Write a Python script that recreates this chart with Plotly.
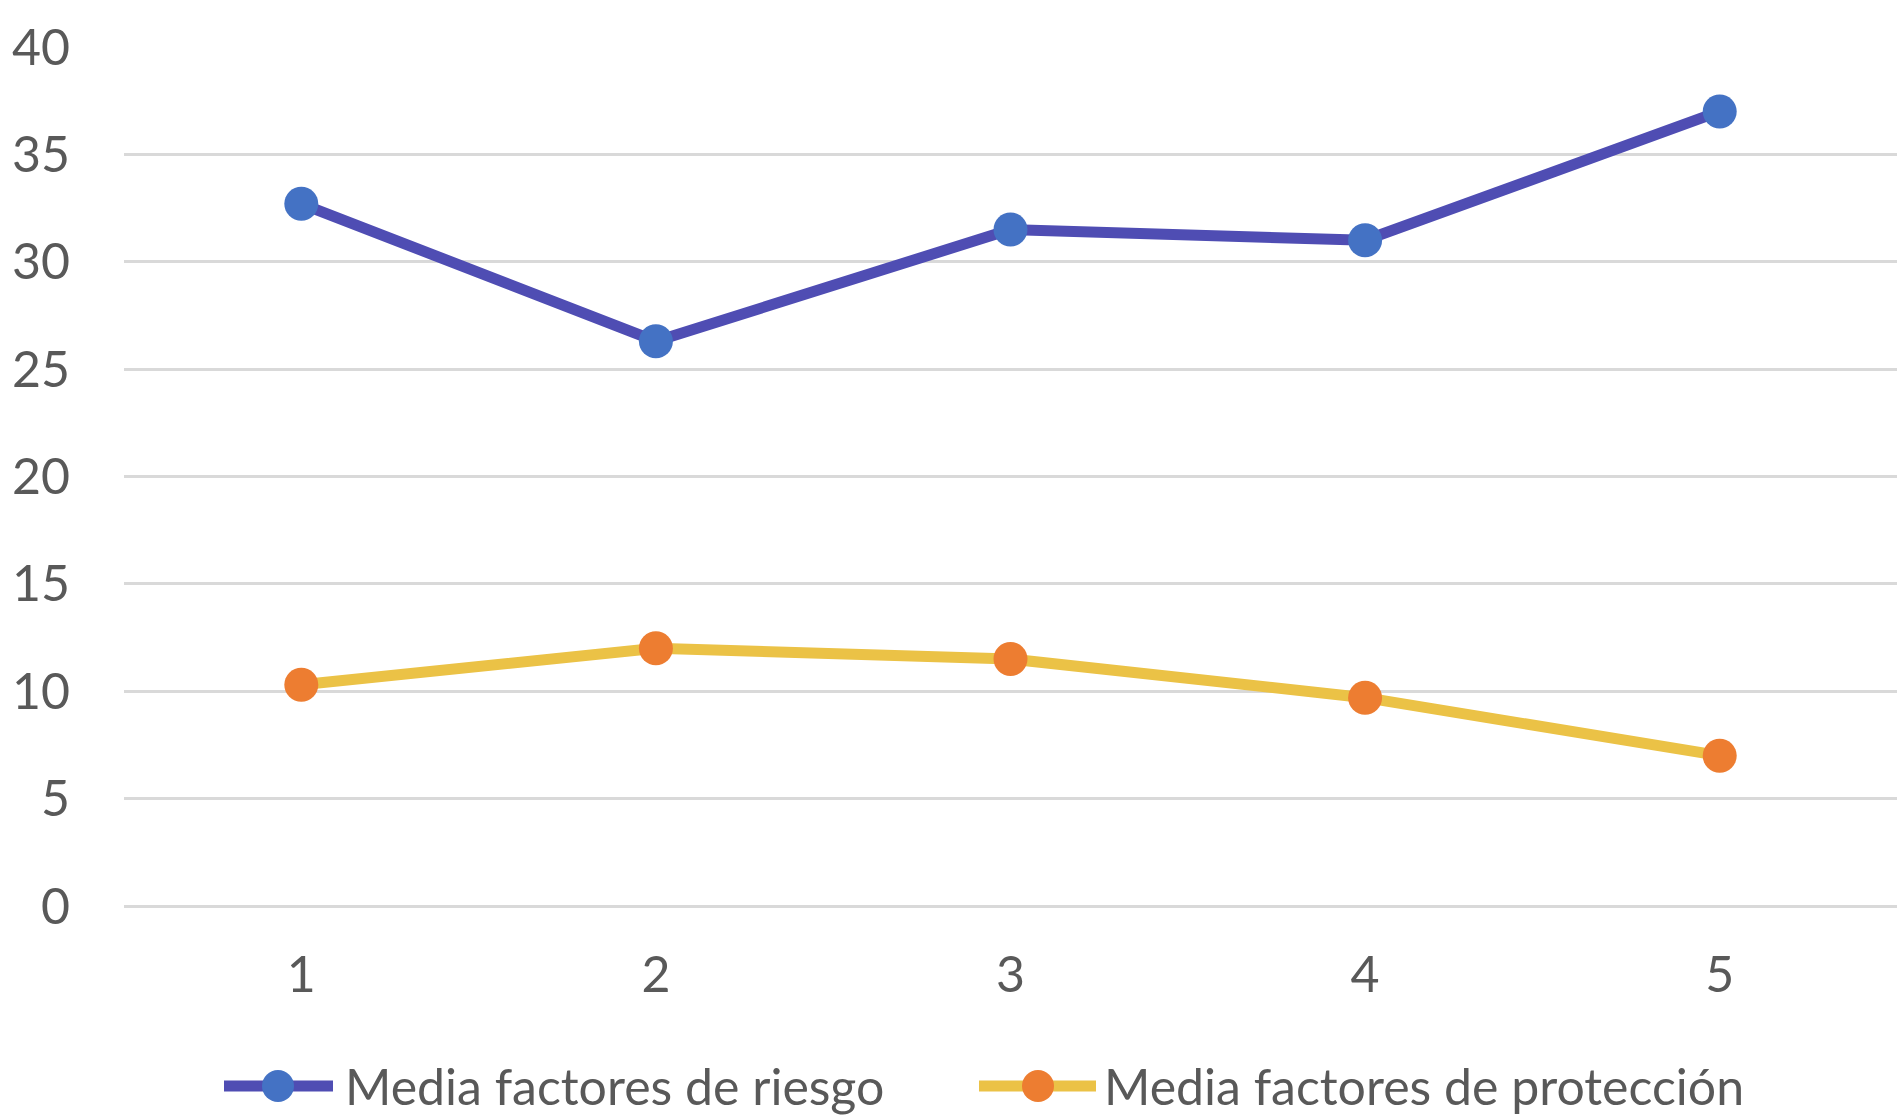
import plotly.graph_objects as go

# Series data
categorias = ["1", "2", "3", "4", "5"]
riesgo = [32.7, 26.3, 31.5, 31.0, 37.0]
proteccion = [10.3, 12.0, 11.5, 9.7, 7.0]
y_ticks = [0, 5, 10, 15, 20, 25, 30, 35, 40]
series_names = ["Media factores de riesgo", "Media factores de protección"]

TEXT = "#595959"
FONT = "Lato"
W, H = 1899, 1116
ML, MR, MT, MB = 124, 2, 47, 210

LINE_COLORS = ["#4F4DB3", "#EBC246"]
MARKER_COLORS = ["#4472C4", "#ED7D31"]

fig = go.Figure()
for name, vals, lc, mc in zip(series_names, [riesgo, proteccion], LINE_COLORS, MARKER_COLORS):
    fig.add_trace(go.Scatter(
        x=categorias, y=vals, mode="lines+markers", name=name,
        line=dict(color=lc, width=11),
        marker=dict(color=mc, size=34),
        showlegend=False,
    ))


def px_to_paper(xp, yp):
    """Convert page pixel coordinates to paper coordinates."""
    pw = W - ML - MR
    ph = H - MT - MB
    return (xp - ML) / pw, (H - MB - yp) / ph


# Legend drawn below the plot: long line swatch with a centred marker
legend_items = [
    (224, 333, 278, 343),
    (979, 1096, 1038, 1102),
]
shapes = []
annotations = []
LEG_Y = 1086
for (x0, x1, xm, xt), name, lc, mc in zip(legend_items, series_names, LINE_COLORS, MARKER_COLORS):
    px0, py = px_to_paper(x0, LEG_Y)
    px1, _ = px_to_paper(x1, LEG_Y)
    pm, _ = px_to_paper(xm, LEG_Y)
    ptx, _ = px_to_paper(xt, LEG_Y)
    shapes.append(dict(type="line", xref="paper", yref="paper", x0=px0, x1=px1, y0=py, y1=py,
                       line=dict(color=lc, width=11)))
    shapes.append(dict(type="circle", xref="paper", yref="paper", xsizemode="pixel", ysizemode="pixel",
                       xanchor=pm, yanchor=py, x0=-16, x1=16, y0=-16, y1=16,
                       fillcolor=mc, line=dict(width=0)))
    annotations.append(dict(xref="paper", yref="paper", x=ptx, y=py, xanchor="left", yanchor="middle",
                            text=name, showarrow=False,
                            font=dict(family=FONT, size=50, color=TEXT)))

fig.update_layout(
    width=W, height=H,
    margin=dict(l=ML, r=MR, t=MT, b=MB),
    paper_bgcolor="white", plot_bgcolor="white",
    font=dict(family=FONT, size=50, color=TEXT),
    showlegend=False,
    shapes=shapes,
    annotations=annotations,
    xaxis=dict(
        type="category", range=[-0.5, 4.5], showgrid=False, zeroline=False, showline=False,
        ticks="outside", ticklen=25, tickcolor="rgba(0,0,0,0)",
        tickfont=dict(family=FONT, size=50, color=TEXT),
    ),
    yaxis=dict(
        range=[0, 40], tickvals=y_ticks, showgrid=True, gridcolor="#D9D9D9",
        gridwidth=3, zeroline=True, zerolinecolor="#D9D9D9", zerolinewidth=3, showline=False,
        ticks="outside", ticklen=43, tickcolor="rgba(0,0,0,0)",
        tickfont=dict(family=FONT, size=50, color=TEXT),
    ),
)

fig.write_html("out.html")
